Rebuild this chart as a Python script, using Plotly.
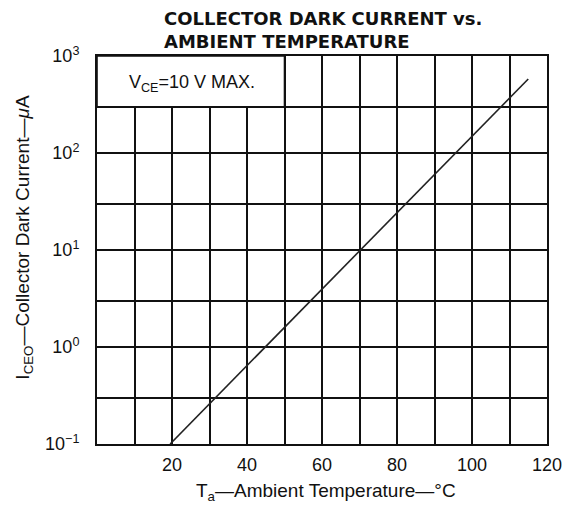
import plotly.graph_objects as go

# Data
temperature_c = [19.5, 115]
dark_current_ua = [0.1, 580]

x_tick_vals = [20, 40, 60, 80, 100, 120]
x_tick_text = ["20", "40", "60", "80", "100", "120"]
y_tick_vals = [0.1, 1, 10, 100, 1000]
y_tick_text = ["10<sup>−1</sup>", "10<sup>0</sup>", "10<sup>1</sup>", "10<sup>2</sup>", "10<sup>3</sup>"]
y_minor_vals = [0.3, 3, 30, 300]
x_minor_vals = [10, 30, 50, 70, 90, 110]

font_main = "Liberation Sans, Arial, sans-serif"
ink = "#111"

fig = go.Figure()
fig.add_trace(go.Scatter(
    x=temperature_c, y=dark_current_ua, mode="lines",
    line=dict(color="#222", width=1.6), showlegend=False, hoverinfo="skip"))

# Annotation box (covers grid in the upper-left)
fig.add_shape(type="rect", xref="x", yref="y", x0=0, x1=50, y0=300, y1=1000,
              fillcolor="white", line=dict(color=ink, width=1.6), layer="above")
fig.add_annotation(x=25.3, y=2.72, xref="x", yref="y", yanchor="middle",
                   text="V<sub>CE</sub>=10 V MAX.", showarrow=False,
                   font=dict(family=font_main, size=18, color=ink))

# Titles
fig.add_annotation(xref="paper", yref="paper", x=0.146, y=1.068,
                   xanchor="left", yanchor="middle", align="left", showarrow=False,
                   borderpad=0,
                   text="COLLECTOR DARK CURRENT vs.<br>AMBIENT TEMPERATURE",
                   font=dict(family="DejaVu Sans", size=18, color=ink, weight="bold"))
fig.add_annotation(xref="paper", yref="paper", x=0.509, y=-0.124,
                   xanchor="center", yanchor="middle", showarrow=False,
                   text="T<sub>a</sub>—Ambient Temperature—°C",
                   font=dict(family=font_main, size=19, color=ink))
fig.add_annotation(xref="paper", yref="paper", x=-0.163, y=0.5335,
                   xanchor="center", yanchor="middle", showarrow=False, textangle=-90,
                   text="I<sub>CEO</sub>—Collector Dark Current—<i>μ</i>A",
                   font=dict(family=font_main, size=19, color=ink))

fig.update_xaxes(
    range=[0, 120], tickvals=x_tick_vals, ticktext=x_tick_text,
    showgrid=True, gridcolor=ink, gridwidth=1.5,
    minor=dict(tickvals=x_minor_vals, showgrid=True, gridcolor=ink, gridwidth=1.5),
    showline=True, linecolor=ink, linewidth=2, mirror=True,
    ticks="", ticklabelstandoff=3, zeroline=False, automargin=False,
    tickfont=dict(family=font_main, size=18, color=ink))

fig.update_yaxes(
    type="log", range=[-1, 3], tickvals=y_tick_vals, ticktext=y_tick_text,
    showgrid=True, gridcolor=ink, gridwidth=1.5,
    minor=dict(tickvals=y_minor_vals, showgrid=True, gridcolor=ink, gridwidth=1.5),
    showline=True, linecolor=ink, linewidth=2, mirror=True,
    ticks="", ticklabelstandoff=12, zeroline=False, automargin=False,
    tickfont=dict(family=font_main, size=18, color=ink))

# Page body has an 8px default margin, so the figure is sized to fit inside it
fig.update_layout(
    width=565, height=500,
    margin=dict(l=89, r=26, t=48, b=64, autoexpand=False),
    paper_bgcolor="white", plot_bgcolor="white",
)

fig.write_html("out.html")
